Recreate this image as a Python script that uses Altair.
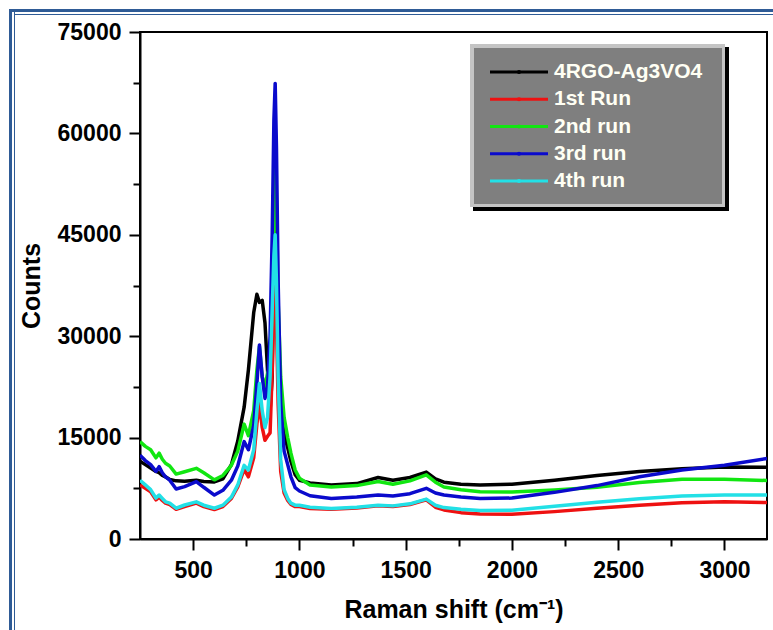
import altair as alt
import pandas as pd

# ---------------- data ----------------
shift = [250, 275, 300, 325, 340, 355, 370, 390, 420, 460, 515, 550, 600, 640, 680,
         710, 740, 760, 785, 800, 812, 825, 838, 850, 862, 872, 880, 886, 892, 900,
         912, 928, 945, 960, 980, 1000, 1050, 1150, 1270, 1370, 1440, 1520, 1597,
         1640, 1680, 1760, 1850, 2000, 2200, 2400, 2600, 2800, 3000, 3200]

black = [11500, 11000, 10500, 10000, 9800, 9400, 9200, 8800, 8600, 8550, 8700, 8500, 8450, 8900, 11000,
         14500, 19500, 25000, 33500, 36200, 35000, 35300, 32000, 25000, 19000, 24000, 42000, 50000, 40000, 28000,
         20000, 15500, 13500, 11500, 9500, 8700, 8300, 8000, 8200, 9100, 8700, 9100, 9900,
         8900, 8400, 8100, 8000, 8100, 8700, 9400, 10000, 10400, 10650, 10600]

red = [8000, 7500, 7000, 5800, 6200, 5700, 5300, 5100, 4400, 4800, 5300, 4800, 4350, 4800, 6000,
       7700, 10300, 9200, 12000, 17000, 20000, 16500, 14600, 15200, 15700, 25000, 35000, 40000, 32000, 20000,
       10000, 6800, 5700, 5100, 4800, 4800, 4500, 4400, 4600, 4900, 4800, 5100, 5800,
       4700, 4300, 3900, 3700, 3650, 4050, 4550, 5000, 5350, 5500, 5400]

green = [14400, 13700, 13200, 12000, 12700, 11800, 11200, 10800, 9600, 9950, 10450, 9800, 8750, 9400, 10900,
         13000, 17000, 15300, 19000, 25000, 28500, 24000, 22500, 24500, 25500, 35000, 50000, 60000, 50000, 35000,
         24000, 18000, 15000, 12700, 10200, 9000, 8000, 7700, 7900, 8500, 8100, 8600, 9500,
         8400, 7700, 7300, 7000, 6950, 7250, 7650, 8350, 8830, 8850, 8650]

blue = [12400, 11600, 11000, 10000, 10700, 9800, 9200, 8700, 7400, 7750, 8500, 7650, 6500, 7200, 8700,
        10800, 14400, 13200, 16800, 23000, 28700, 24000, 20800, 22500, 30000, 45000, 62000, 67400, 58000, 38000,
        20000, 13000, 11000, 9200, 7600, 7100, 6400, 6000, 6200, 6500, 6350, 6700, 7500,
        6800, 6500, 6200, 6000, 6050, 6900, 7900, 9200, 10200, 10900, 11900]

cyan = [8700, 8000, 7300, 6050, 6500, 6000, 5500, 5300, 4550, 5030, 5500, 5000, 4550, 5000, 6200,
        8000, 10900, 10200, 13200, 19000, 23000, 19000, 16500, 18000, 24000, 34000, 42000, 45000, 38000, 24000,
        11700, 7300, 6000, 5300, 5000, 5000, 4700, 4500, 4700, 5000, 4900, 5200, 5900,
        5000, 4650, 4400, 4200, 4250, 4850, 5450, 5950, 6350, 6500, 6500]

names = ["4RGO-Ag3VO4", "1st Run", "2nd run", "3rd run", "4th run"]
colors = ["#000000", "#ee1111", "#11e611", "#0a0acc", "#22e0e6"]

x_major = [500, 1000, 1500, 2000, 2500, 3000]
x_minor = [750, 1250, 1750, 2250, 2750]
y_major = [0, 15000, 30000, 45000, 60000, 75000]
y_minor = [7500, 22500, 37500, 52500, 67500]

# ---------------- build table ----------------
rows = []
for k, (name, vals) in enumerate(zip(names, [black, red, green, blue, cyan])):
    for xv, yv in zip(shift, vals):
        rows.append({"shift": xv, "counts": yv, "series": name, "k": k})
df = pd.DataFrame(rows)
leg = pd.DataFrame({"name": names})
one = pd.DataFrame({"a": [0]})

W, H = 627, 507
FONT = "Liberation Sans"

xscale = alt.Scale(domain=[250, 3200], nice=False, zero=False)
yscale = alt.Scale(domain=[0, 75000], nice=False, zero=False)
cscale = alt.Scale(domain=names, range=colors)

lines = alt.Chart(df).mark_line(strokeWidth=3.5, clip=True, strokeJoin="round").encode(
    x=alt.X("shift:Q", scale=xscale,
            axis=alt.Axis(orient="bottom", values=x_major, format="d", tickSize=11,
                          labelPadding=9, title="Raman shift (cm\u207b\u00b9)",
                          titleY=58, titleBaseline="top")),
    y=alt.Y("counts:Q", scale=yscale,
            axis=alt.Axis(orient="left", values=y_major, format="d", tickSize=11,
                          labelPadding=8, title="Counts", titleX=-101, titleY=H / 2,
                          titleBaseline="alphabetic", titleAngle=-90)),
    color=alt.Color("series:N", scale=cscale, legend=None),
    order=alt.Order("k:Q"),
)

minor = alt.Chart(df).mark_point(opacity=0).encode(
    x=alt.X("shift:Q", scale=xscale,
            axis=alt.Axis(orient="bottom", values=x_minor, labels=False, tickSize=7,
                          domain=False, title=None)),
    y=alt.Y("counts:Q", scale=yscale,
            axis=alt.Axis(orient="left", values=y_minor, labels=False, tickSize=7,
                          domain=False, title=None)),
)

plot = alt.layer(lines, minor).resolve_axis(x="independent", y="independent")

# ---------------- legend box (decoration) ----------------
def box(x1, x2, y1, y2, color):
    return alt.Chart(one).mark_rect(color=color).encode(
        x=alt.value(x1), x2=alt.value(x2), y=alt.value(y1), y2=alt.value(y2))

shadow = box(333, 589, 15, 179, "#000000")
light = box(330, 585, 12, 175, "#c4c4c4")
inner = box(334, 582, 16, 172, "#7f7f7f")

ly = alt.Y("name:N", scale=alt.Scale(type="point", domain=names, range=[40, 149], padding=0),
           axis=None)
leg_lines = alt.Chart(leg).mark_rule(strokeWidth=3).encode(
    x=alt.value(350), x2=alt.value(408), y=ly,
    color=alt.Color("name:N", scale=cscale, legend=None))
leg_pts = alt.Chart(leg).mark_point(filled=True, size=18, opacity=1).encode(
    x=alt.value(379), y=ly,
    color=alt.Color("name:N", scale=cscale, legend=None))
leg_text = alt.Chart(leg).mark_text(align="left", baseline="middle", font=FONT,
                                    fontSize=21, fontWeight="bold", color="#fffff4").encode(
    x=alt.value(414), y=ly, text="name:N")

legend = alt.layer(shadow, light, inner, leg_lines, leg_pts, leg_text)

# ---------------- page frame (decoration) ----------------
FB = "#2f5b96"
frame = alt.layer(
    box(-131, -128, -23, 600, FB),
    box(-126, -125, -23, 600, FB),
    box(-131, 640, -23, -20, FB),
    box(-126, 640, -18, -17, FB),
)

chart = alt.layer(frame, plot, legend).resolve_scale(y="independent").properties(
    width=W, height=H,
    autosize=alt.AutoSizeParams(type="none"),
    padding={"left": 140, "top": 32, "right": 6, "bottom": 91},
).configure_view(stroke="black", strokeWidth=2).configure_axis(
    grid=False, domainColor="black", domainWidth=2, tickColor="black", tickWidth=2,
    labelFont=FONT, labelFontSize=23, labelFontWeight="bold", labelColor="black",
    titleFont=FONT, titleFontSize=25, titleFontWeight="bold", titleColor="black",
)

chart.save("out.html", embed_options={"renderer": "svg", "actions": False})
